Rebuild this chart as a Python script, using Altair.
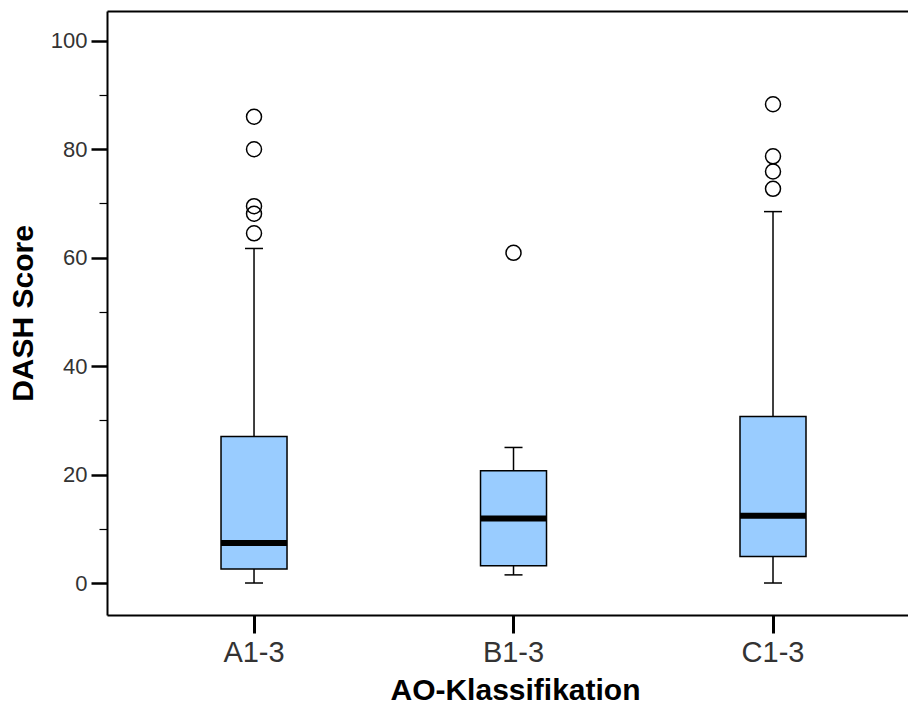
import altair as alt
import pandas as pd

# Summary statistics per AO class (DASH score)
groups = ["A1-3", "B1-3", "C1-3"]
q1 = [2.6, 3.2, 4.9]
median = [7.4, 11.9, 12.4]
q3 = [27.0, 20.7, 30.7]
whisker_low = [0.0, 1.5, 0.0]
whisker_high = [61.7, 25.0, 68.5]

outliers_a = [86.0, 80.0, 69.5, 68.1, 64.5]
outliers_b = [60.9]
outliers_c = [88.3, 78.7, 75.9, 72.7]

y_ticks = [0, 10, 20, 30, 40, 50, 60, 70, 80, 90, 100]

stats = pd.DataFrame({
    "group": groups, "q1": q1, "median": median, "q3": q3,
    "lo": whisker_low, "hi": whisker_high,
})
outliers = pd.DataFrame({
    "group": ["A1-3"] * len(outliers_a) + ["B1-3"] * len(outliers_b) + ["C1-3"] * len(outliers_c),
    "value": outliers_a + outliers_b + outliers_c,
})

FONT = "Liberation Sans"
W, H = 801, 604

x_scale = alt.Scale(domain=groups, paddingInner=0, paddingOuter=0.0434, align=0.767)
y_scale = alt.Scale(domain=[-5.9, 105.5], nice=False, zero=False)

y_axis = alt.Axis(
    values=y_ticks,
    labelExpr="datum.value % 20 === 0 ? datum.label : ''",
    labelOverlap=False,
    tickSize={"condition": {"test": "datum.value % 20 === 0", "value": 16}, "value": 8},
    tickWidth={"condition": {"test": "datum.value % 20 === 0", "value": 2.5}, "value": 1.2},
    tickColor="black",
    domainColor="black",
    domainWidth=2,
    grid=False,
    labelFont=FONT,
    labelFontSize=22,
    labelColor="#333333",
    labelPadding=4,
    title="DASH Score",
    titleFont=FONT,
    titleFontSize=30,
    titleFontWeight="bold",
    titleColor="black",
    titlePadding=12,
)

x_axis_bottom = alt.Axis(
    tickSize=18,
    tickWidth=3,
    tickColor="black",
    domainColor="black",
    domainWidth=2,
    labelAngle=0,
    labelFont=FONT,
    labelFontSize=29,
    labelColor="#333333",
    labelPadding=5,
    title="AO-Klassifikation",
    titleFont=FONT,
    titleFontSize=30,
    titleFontWeight="bold",
    titleColor="black",
    titlePadding=8,
    titleX=408,
)

x_axis_top = alt.Axis(
    orient="top", labels=False, ticks=False, title=None,
    domainColor="black", domainWidth=2,
)

Y = lambda f: alt.Y(f, type="quantitative", scale=y_scale, axis=y_axis)

base = alt.Chart(stats)

upper_whisker = base.mark_rule(color="black", strokeWidth=1.5).encode(
    x=alt.X("group:N", scale=x_scale, axis=x_axis_bottom),
    y=Y("q3"), y2="hi",
)
lower_whisker = base.mark_rule(color="black", strokeWidth=1.5).encode(
    x=alt.X("group:N", scale=x_scale, axis=None),
    y=Y("lo"), y2="q1",
)
caps_hi = base.mark_tick(color="black", size=18, thickness=1.5, opacity=1, orient="horizontal").encode(
    x=alt.X("group:N", scale=x_scale, axis=None), y=Y("hi"),
)
caps_lo = base.mark_tick(color="black", size=18, thickness=1.5, opacity=1, orient="horizontal").encode(
    x=alt.X("group:N", scale=x_scale, axis=None), y=Y("lo"),
)
box = base.mark_bar(size=66, color="#99CCFF", stroke="black", strokeWidth=1.5).encode(
    x=alt.X("group:N", scale=x_scale, axis=None),
    y=Y("q1"), y2="q3",
)
med = base.mark_tick(color="black", size=66, thickness=6, opacity=1, orient="horizontal").encode(
    x=alt.X("group:N", scale=x_scale, axis=None), y=Y("median"),
)
points = alt.Chart(outliers).mark_point(
    shape="circle", filled=False, size=225, color="black", strokeWidth=1.5, opacity=1
).encode(
    x=alt.X("group:N", scale=x_scale, axis=x_axis_top),
    y=Y("value"),
)

chart = alt.layer(
    upper_whisker, lower_whisker, caps_hi, caps_lo, box, med, points
).resolve_axis(x="independent").properties(
    width=W, height=H,
    padding={"left": 107, "top": 11, "right": 0, "bottom": 98},
    autosize=alt.AutoSizeParams(type="none"),
    background="white",
).configure_view(stroke=None)

chart.save("out.html", embed_options={"renderer": "svg", "actions": False})
